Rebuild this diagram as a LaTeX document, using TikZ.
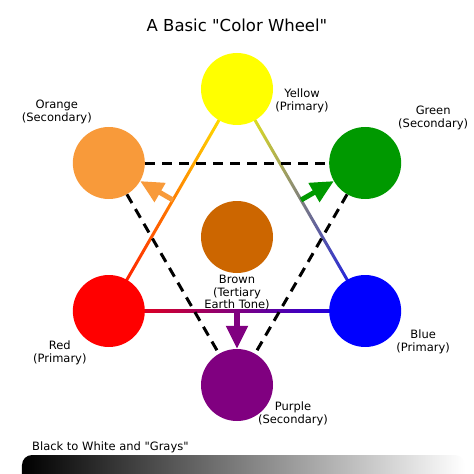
\documentclass[tikz,border=0pt]{standalone}
\usepackage{fontspec}
\setmainfont{DejaVu Sans}[Ligatures=TeXOff] % keep " straight
\usetikzlibrary{positioning}
\usetikzlibrary{calc}
\usetikzlibrary{arrows.meta}
\usetikzlibrary{backgrounds}
\definecolor{cwyellow}{RGB}{255,255,0}
\definecolor{cworange}{RGB}{248,154,58}
\definecolor{cwgreen}{RGB}{0,153,0}
\definecolor{cwblue}{RGB}{0,0,255}
\definecolor{cwpurple}{RGB}{128,0,128}
\definecolor{cwred}{RGB}{255,0,0}
\definecolor{cwbrown}{RGB}{204,102,0}
\tikzset{
ball/.style={ % Sets the properties for each colour disc
circle, minimum size=72pt, inner sep=0pt,
fill=#1},
txt/.style={ % Two or three line labels
align=center, inner sep=0pt,
font=\fontsize{11.5}{12.5}\selectfont},
dashline/.style={ % Black dashed triangle
draw=black, line width=3pt,
dash pattern=on 10pt off 7pt},
mixarrow/.style={ % Arrow from a blended line to its mix
draw=#1, line width=5pt,
-{Triangle[width=21pt,length=23pt]}}}

\begin{document}
\begin{tikzpicture}[x=1pt, y=1pt]
\useasboundingbox (-237,-237) rectangle (237,237);
\node[font=\fontsize{16.5}{18}\selectfont] (title) at (0,212) {A Basic "Color Wheel"};

\node[ball=cwbrown] (brown) at (0,0) {};
\foreach \name/\ang in {yellow/90, green/30, blue/-30, purple/-90, red/210, orange/150}
	\node[ball=cw\name] (\name) at (\ang:148) {};

\node[txt] (yellowtxt) at ([shift={(65,-12)}]yellow) {Yellow\\(Primary)};
\node[txt] (orangetxt) at ([shift={(-52,51)}]orange) {Orange\\(Secondary)};
\node[txt] (greentxt) at ([shift={(68,45)}]green) {Green\\(Secondary)};
\node[txt] (redtxt) at ([shift={(-49,-42)}]red) {Red\\(Primary)};
\node[txt] (bluetxt) at ([shift={(58,-31)}]blue) {Blue\\(Primary)};
\node[txt] (purpletxt) at ([shift={(56,-29)}]purple) {Purple\\(Secondary)};
\node[txt, below=2pt of brown] (browntxt) {Brown\\(Tertiary\\Earth Tone)};

% blended primary triangle, left end colour first
\begin{scope}[on background layer]
\foreach \a/\b in {red/yellow, yellow/blue, red/blue}
	\shade[left color=\a, right color=\b]
		($(\a)!1.5pt!90:(\b)$) -- ($(\a)!1.5pt!-90:(\b)$) --
		($(\b)!1.5pt!90:(\a)$) -- ($(\b)!1.5pt!-90:(\a)$) -- cycle;
\end{scope}

% secondary triangle
\draw[dashline] (orange) -- (green);
\draw[dashline] (orange) -- (purple);
\draw[dashline] (green) -- (purple);

\draw[mixarrow=cworange] ($(yellow)!0.5!(red)$) -- (orange);
\draw[mixarrow=cwgreen] ($(yellow)!0.5!(blue)$) -- (green);
\draw[mixarrow=cwpurple] ($(red)!0.5!(blue)$) -- (purple);

\node[txt, anchor=west] (graytxt) at (-205,-210) {Black to White and "Grays"};
\begin{scope}
\clip (-237,-237) rectangle (237,237);
\shade[left color=black, right color=white, rounded corners=10pt] (-215,-218) rectangle (228,-262);
\end{scope}
\end{tikzpicture}
\end{document}
